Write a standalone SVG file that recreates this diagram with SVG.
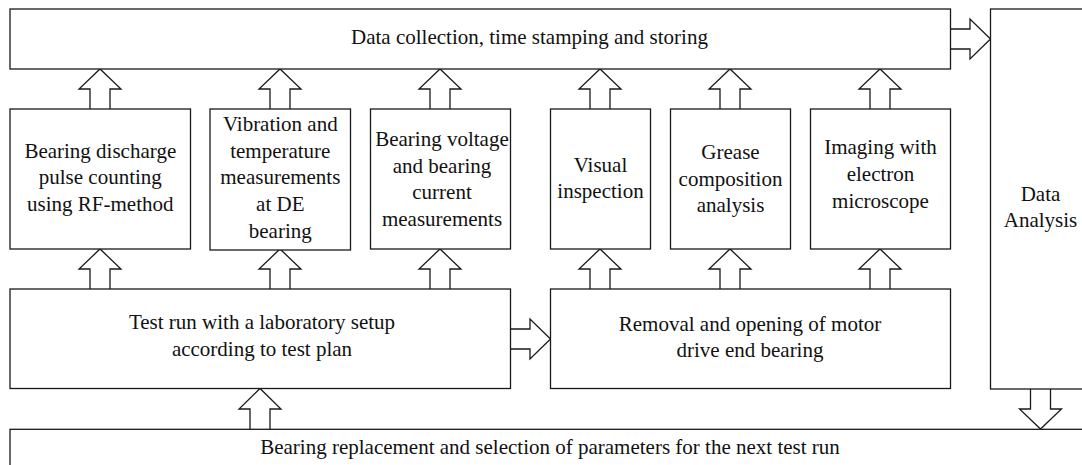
<svg xmlns="http://www.w3.org/2000/svg" width="1082" height="465" viewBox="0 0 1082 465">
  <style>
    .box { fill: #ffffff; stroke: #1a1a1a; stroke-width: 1.3; }
    .arrow { fill: #ffffff; stroke: #1a1a1a; stroke-width: 1.3; stroke-linejoin: miter; }
    text { font-family: "Liberation Serif", "Times New Roman", serif; font-size: 21px; fill: #111111; text-anchor: middle; }
  </style>
  <rect width="1082" height="465" fill="#ffffff"/>

  <!-- Block arrows between stages -->
  <g id="connectors">
    <!-- upward arrows: measurement boxes to data collection -->
    <path class="arrow" d="M90,109 V89 H79 L100,69 L121,89 H110 V109"/>
    <path class="arrow" d="M270,109 V89 H259 L280,69 L301,89 H290 V109"/>
    <path class="arrow" d="M430,109 V89 H419 L440,69 L461,89 H450 V109"/>
    <path class="arrow" d="M590,109 V89 H579 L600,69 L621,89 H610 V109"/>
    <path class="arrow" d="M720,109 V89 H709 L730,69 L751,89 H740 V109"/>
    <path class="arrow" d="M870,109 V89 H859 L880,69 L901,89 H890 V109"/>
    <!-- upward arrows: test run / removal to measurement boxes -->
    <path class="arrow" d="M90,289 V269 H79 L100,249 L121,269 H110 V289"/>
    <path class="arrow" d="M270,289 V269 H259 L280,249 L301,269 H290 V289"/>
    <path class="arrow" d="M430,289 V269 H419 L440,249 L461,269 H450 V289"/>
    <path class="arrow" d="M590,289 V269 H579 L600,249 L621,269 H610 V289"/>
    <path class="arrow" d="M720,289 V269 H709 L730,249 L751,269 H740 V289"/>
    <path class="arrow" d="M870,289 V269 H859 L880,249 L901,269 H890 V289"/>
    <!-- test run to removal -->
    <path class="arrow" d="M510.5,329 H530 V319 L550.5,339 L530,359 V349 H510.5"/>
    <!-- data collection to data analysis -->
    <path class="arrow" d="M950.5,29 H970 V19 L990.5,39 L970,59 V49 H950.5"/>
    <!-- data analysis down to bearing replacement -->
    <path class="arrow" d="M1030.5,389 V409 H1019.5 L1040.5,429 L1061.5,409 H1050.5 V389"/>
    <!-- bearing replacement up to test run -->
    <path class="arrow" d="M250,429 V409 H239 L260,388.5 L281,409 H270 V429"/>
  </g>

  <g id="data-collection">
    <rect class="box" x="10" y="9" width="940.5" height="60"/>
    <text x="529.5" y="44">Data collection, time stamping and storing</text>
  </g>

  <g id="data-analysis">
    <rect class="box" x="990.5" y="9" width="100" height="380"/>
    <text x="1040.5" y="200.5">Data</text>
    <text x="1040.5" y="227">Analysis</text>
  </g>

  <g id="discharge-counting">
    <rect class="box" x="10" y="109" width="180.5" height="140"/>
    <text x="100.3" y="157.7">Bearing discharge</text>
    <text x="100.3" y="184.3">pulse counting</text>
    <text x="100.3" y="210.9">using RF-method</text>
  </g>

  <g id="vibration-temperature">
    <rect class="box" x="210" y="109" width="140.5" height="141"/>
    <text x="280.3" y="131">Vibration and</text>
    <text x="280.3" y="157.7">temperature</text>
    <text x="280.3" y="184.3">measurements</text>
    <text x="280.3" y="211">at DE</text>
    <text x="280.3" y="237.5">bearing</text>
  </g>

  <g id="voltage-current">
    <rect class="box" x="370.5" y="109" width="140" height="140"/>
    <text x="442" y="146">Bearing voltage</text>
    <text x="442" y="172.7">and bearing</text>
    <text x="442" y="199.3">current</text>
    <text x="442" y="226">measurements</text>
  </g>

  <g id="visual-inspection">
    <rect class="box" x="550.5" y="109" width="100" height="140"/>
    <text x="600.5" y="171.7">Visual</text>
    <text x="600.5" y="198.3">inspection</text>
  </g>

  <g id="grease-analysis">
    <rect class="box" x="670.5" y="109" width="120" height="140"/>
    <text x="730.5" y="159">Grease</text>
    <text x="730.5" y="185.7">composition</text>
    <text x="730.5" y="212.3">analysis</text>
  </g>

  <g id="electron-microscope">
    <rect class="box" x="810.5" y="109" width="140" height="140"/>
    <text x="880.5" y="154.3">Imaging with</text>
    <text x="880.5" y="181">electron</text>
    <text x="880.5" y="207.5">microscope</text>
  </g>

  <g id="test-run">
    <rect class="box" x="10" y="289" width="500.5" height="99.5"/>
    <text x="262" y="329.3">Test run with a laboratory setup</text>
    <text x="262" y="356">according to test plan</text>
  </g>

  <g id="bearing-removal">
    <rect class="box" x="550.5" y="289" width="400" height="99.5"/>
    <text x="750" y="330.7">Removal and opening of motor</text>
    <text x="750" y="357.3">drive end bearing</text>
  </g>

  <g id="bearing-replacement">
    <rect class="box" x="10" y="429.3" width="1080" height="50"/>
    <text x="550" y="454">Bearing replacement and selection of parameters for the next test run</text>
  </g>
</svg>
